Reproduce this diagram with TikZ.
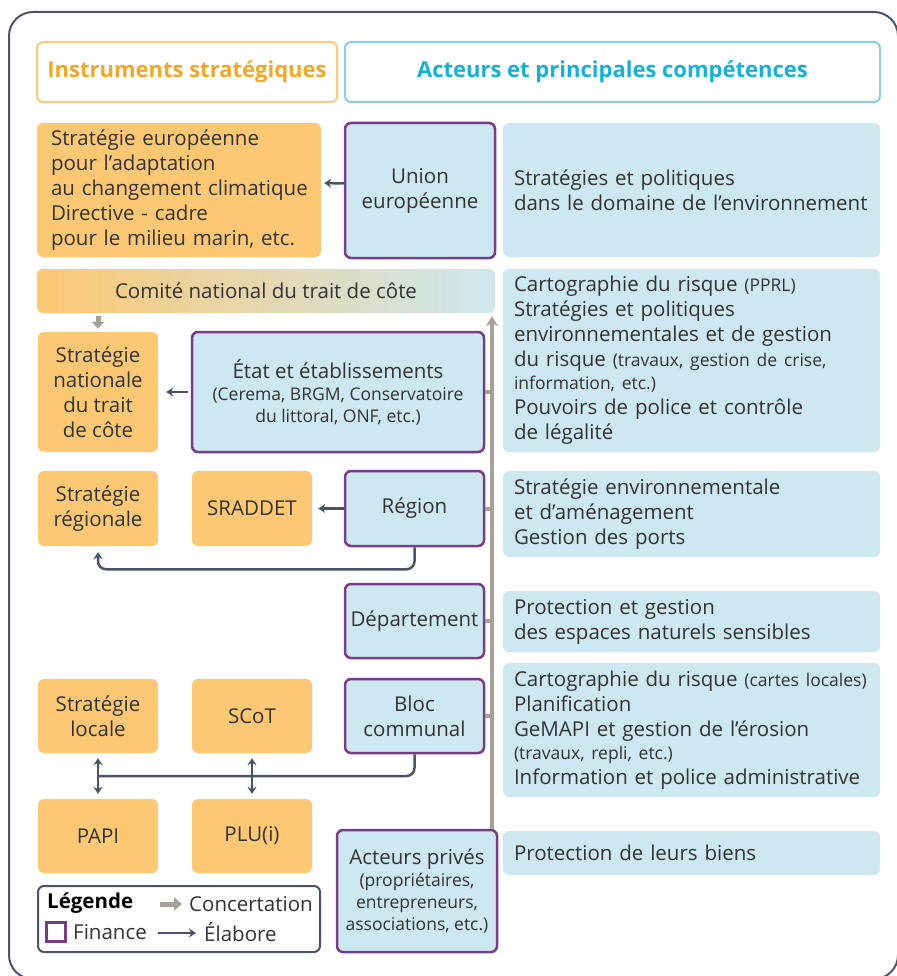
\documentclass[tikz,border=0pt]{standalone}
\usepackage{fontspec}
\setmainfont{Open Sans}
\usetikzlibrary{positioning,arrows.meta,calc}

\definecolor{orangeI}{HTML}{FDC874}
\definecolor{orangeT}{HTML}{F5A623}
\definecolor{orangeB}{HTML}{FDCB7A}
\definecolor{bleuC}{HTML}{CDE8F0}
\definecolor{bleuT}{HTML}{12B2DA}
\definecolor{bleuB}{HTML}{88D0E8}
\definecolor{violet}{HTML}{7A3B87}
\definecolor{ardoise}{HTML}{4A5466}
\definecolor{taupe}{HTML}{A89F99}
\definecolor{texte}{HTML}{333333}

\newcommand\petit[1]{{\fontsize{17.5}{22}\selectfont #1}}

\tikzset{
    base/.style={
        rectangle,
        rounded corners=6pt,
        inner sep=0pt,
        text=texte,
        font=\fontsize{20.5}{25}\selectfont,
        align=center
    },
    instr/.style={base, fill=orangeI, minimum width=120pt, minimum height=74pt},
    acteur/.style={base, fill=bleuC, draw=violet, line width=2.5pt,
        minimum width=139pt, minimum height=75pt},
    compet/.style={base, fill=bleuC, minimum width=377pt, text width=355pt, align=left},
    titre/.style={base, fill=white, line width=2pt, minimum height=60pt,
        font=\fontsize{22}{25}\selectfont\bfseries},
    elab/.style={draw=ardoise, line width=2.5pt, -{Stealth[length=7pt,width=9pt]}},
    elabdouble/.style={draw=ardoise, line width=2.5pt,
        {Stealth[length=7pt,width=9pt]}-{Stealth[length=7pt,width=9pt]}},
    concert/.style={draw=taupe, line width=4pt},
    legtexte/.style={anchor=west, inner sep=0pt, text=texte, font=\fontsize{20.5}{25}\selectfont},
}

\begin{document}
\begin{tikzpicture}[x=1pt, y=-1pt]

\useasboundingbox (0,0) rectangle (896,976);

% cadre
\draw[draw=ardoise, line width=2pt, rounded corners=24pt] (9,12) rectangle (898,979);

% en-tetes
\node[titre, draw=orangeB, text=orangeT, minimum width=300pt] (hdrInstr) at (187,72) {Instruments stratégiques};
\node[titre, draw=bleuB, text=bleuT, minimum width=535pt] (hdrActeurs) at (612.5,72) {Acteurs et principales compétences};

% Union europeenne
\node[instr, minimum width=284pt, minimum height=134pt, text width=256pt, align=left] (strEurope) at (179,190)
  {Stratégie européenne\\pour l’adaptation\\\mbox{au changement climatique}\\Directive - cadre\\pour le milieu marin, etc.};
\node[acteur, minimum width=150pt, minimum height=135pt] (ue) at (420,190.5) {Union\\européenne};
\node[compet, minimum height=134pt] (cUe) at (691.5,190)
  {Stratégies et politiques\\dans le domaine de l’environnement};

% Etat
\node[base, left color=orangeI, right color=bleuC, minimum width=458pt, minimum height=44pt] (comite) at (266,291)
  {Comité national du trait de côte};
\node[instr, minimum height=120pt] (strNat) at (98,392) {Stratégie\\nationale\\du trait\\de côte};
\node[acteur, minimum width=292pt, minimum height=120pt] (etat) at (338,392)
  {État et établissements\\[-3pt]\petit{(Cerema, BRGM, Conservatoire}\\[-3pt]\petit{du littoral, ONF, etc.)}};
\node[compet, minimum height=183pt] (cEtat) at (691.5,360.5)
  {Cartographie du risque \petit{(PPRL)}\\Stratégies et politiques\\environnementales et de gestion\\du risque \petit{(travaux, gestion de crise,}\\[-2pt]\petit{information, etc.)}\\Pouvoirs de police et contrôle\\de légalité};

% Region
\node[instr, minimum height=75pt] (strReg) at (98,508.5) {Stratégie\\régionale};
\node[instr, minimum height=75pt] (sraddet) at (252,508.5) {SRADDET};
\node[acteur] (region) at (414.5,508.5) {Région};
\node[compet, minimum height=86pt] (cRegion) at (691.5,514)
  {Stratégie environnementale\\et d’aménagement\\Gestion des ports};

% Departement
\node[acteur, minimum height=74pt] (dept) at (414.5,621) {Département};
\node[compet, minimum height=61pt] (cDept) at (691.5,621.5)
  {Protection et gestion\\des espaces naturels sensibles};

% Bloc communal
\node[instr] (strLoc) at (98,716) {Stratégie\\locale};
\node[instr] (scot) at (252,716) {SCoT};
\node[acteur, minimum height=74pt] (bloc) at (414.5,716) {Bloc\\communal};
\node[compet, minimum height=134pt] (cBloc) at (691.5,730)
  {Cartographie du risque \petit{(cartes locales)}\\Planification\\GeMAPI et gestion de l’érosion\\[-2pt]\petit{(travaux, repli, etc.)}\\Information et police administrative};

% Acteurs prives
\node[instr] (papi) at (98,836) {PAPI};
\node[instr] (plu) at (252,836) {PLU(i)};
\node[acteur, minimum width=160pt, minimum height=122pt] (prives) at (417,891)
  {Acteurs privés\\[-3pt]\petit{(propriétaires,}\\[-3pt]\petit{entrepreneurs,}\\[-3pt]\petit{associations, etc.)}};
\node[compet, minimum height=44pt] (cPrives) at (691.5,853) {Protection de leurs biens};

% elabore
\draw[elab, shorten >=3pt] ([yshift=7pt]ue.west) -- ([yshift=7pt]strEurope.east);
\draw[elab, shorten <=3pt, shorten >=8pt] (etat.west) -- (strNat.east);
\draw[elab, shorten >=6pt] (region.west) -- (sraddet.east);
\draw[elab, rounded corners=8pt] (region.south) -- ++(0,22) -| ([yshift=-6pt]strReg.south);
\draw[draw=ardoise, line width=2.5pt, rounded corners=8pt] (bloc.south) |- ($(strLoc.south)!0.5!(papi.north)$);
\draw[elabdouble, shorten <=5pt, shorten >=5pt] (strLoc.south) -- (papi.north);
\draw[elabdouble, shorten <=5pt, shorten >=5pt] (scot.south) -- (plu.north);

% concertation
\coordinate (axe) at ([xshift=75pt]prives.north);
\draw[concert, -{Stealth[length=10pt,width=12pt]}, shorten >=3pt] (axe) -- (axe |- comite.south);
\foreach \n in {etat, region, dept, bloc}
  \draw[concert] (\n.east) -- (\n.east -| axe);
\draw[concert, line width=5pt, -{Triangle[length=7pt,width=12pt]}, shorten <=3pt, shorten >=3pt]
  (comite.south -| strNat.north) -- (strNat.north);

% legende
\node[base, fill=white, draw=ardoise, line width=2pt, minimum width=282pt, minimum height=66pt] (legende) at (179,919) {};
\node[legtexte, font=\fontsize{20.5}{25}\selectfont\bfseries, text=black] (lgTitre) at (47,903) {Légende};
\coordinate (lgC1) at (160,904);
\coordinate (lgC2) at (182,904);
\draw[concert, line width=5pt, -{Triangle[length=8pt,width=13pt]}] (lgC1) -- (lgC2);
\node[legtexte] (lgConcert) at (189,904) {Concertation};
\node[draw=violet, line width=2.5pt, minimum size=19pt, inner sep=0pt, fill=white] (lgFinance) at (56,932) {};
\node[legtexte] (lgFinTxt) at (73,932) {Finance};
\coordinate (lgE1) at (158,933);
\coordinate (lgE2) at (196,933);
\draw[elab] (lgE1) -- (lgE2);
\node[legtexte] (lgElab) at (204,932) {Élabore};

\end{tikzpicture}
\end{document}
